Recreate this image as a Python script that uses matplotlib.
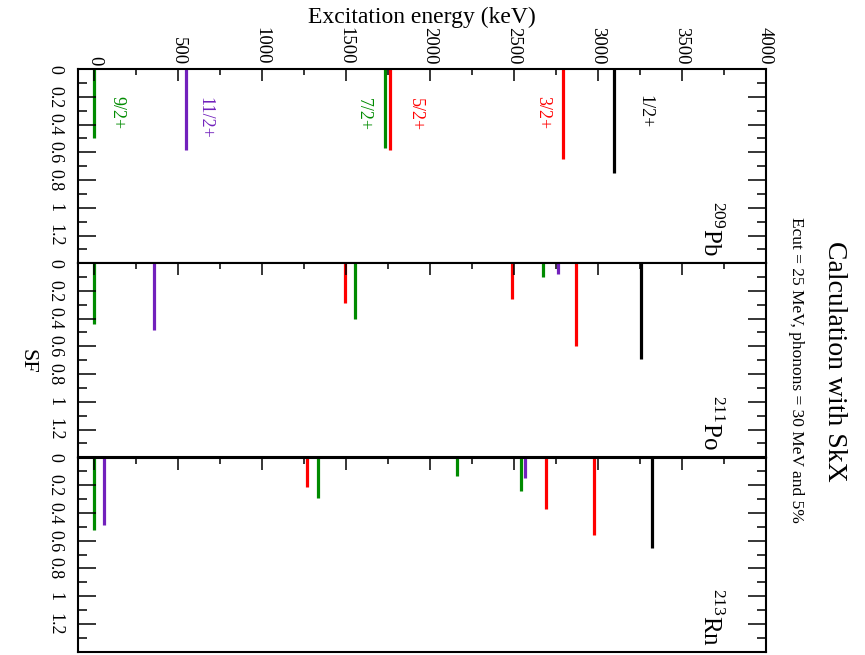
import numpy as np
import matplotlib
matplotlib.use("Agg")
import matplotlib.pyplot as plt

plt.rcParams['font.family'] = ['Liberation Serif', 'DejaVu Serif']
plt.rcParams['mathtext.fontset'] = 'custom'
plt.rcParams['mathtext.rm'] = 'Liberation Serif'

# --- data (energy in keV, spectroscopic factor) ---
nuclei = ['209', '211', '213']
symbols = ['Pb', 'Po', 'Rn']

pb_energy = [0, 545, 1732, 1764, 2794, 3095]
pb_sf = [0.50, 0.58, 0.57, 0.58, 0.65, 0.75]
pb_spin = ['9/2+', '11/2+', '7/2+', '5/2+', '3/2+', '1/2+']

po_energy = [0, 353, 1494, 1552, 2490, 2671, 2761, 2871, 3257]
po_sf = [0.44, 0.48, 0.29, 0.40, 0.26, 0.10, 0.08, 0.60, 0.69]
po_spin = ['9/2+', '11/2+', '5/2+', '7/2+', '5/2+', '7/2+', '11/2+', '3/2+', '1/2+']

rn_energy = [0, 60, 1270, 1333, 2160, 2543, 2565, 2690, 2977, 3325]
rn_sf = [0.52, 0.49, 0.21, 0.29, 0.13, 0.24, 0.15, 0.37, 0.56, 0.65]
rn_spin = ['9/2+', '11/2+', '5/2+', '7/2+', '9/2+', '7/2+', '11/2+', '5/2+', '3/2+', '1/2+']

# spin labels shown in the top panel: (text, energy, SF)
pb_labels = [('9/2+', 135, 0.31), ('11/2+', 660, 0.35), ('7/2+', 1602, 0.325),
             ('5/2+', 1911, 0.33), ('3/2+', 2670, 0.31), ('1/2+', 3283, 0.31)]

energy_ticks = np.arange(0, 4001, 500)
sf_ticks = [0, 0.2, 0.4, 0.6, 0.8, 1.0, 1.2]
sf_ticklabels = ['0', '0.2', '0.4', '0.6', '0.8', '1', '1.2']

spin_colors = {
    '1/2+': 'black',
    '3/2+': '#ff0000',
    '5/2+': '#ff0000',
    '7/2+': '#008b00',
    '9/2+': '#008b00',
    '11/2+': '#7221bc',
}

panels = [(pb_energy, pb_sf, pb_spin), (po_energy, po_sf, po_spin), (rn_energy, rn_sf, rn_spin)]

fig = plt.figure(figsize=(8.65, 6.55), dpi=100)

left, width = 0.0896, 0.7954
height = 0.2965
bottoms = [0.5980, 0.3018, 0.0050]

for i, (energy, sf, spin) in enumerate(panels):
    ax = fig.add_axes([left, bottoms[i], width, height])
    cols = [spin_colors[s] for s in spin]
    ax.vlines(energy, 0, sf, colors=cols, linewidth=2.3, zorder=1)

    ax.set_xlim(-100, 4000)
    ax.set_ylim(1.4, 0)

    ax.xaxis.tick_top()
    ax.set_xticks(energy_ticks)
    ax.set_xticks(np.arange(250, 4000, 500), minor=True)
    ax.tick_params(axis='x', which='both', direction='in', top=True, bottom=False,
                   labeltop=(i == 0), labelbottom=False, width=1.1,
                   labelsize=13.5, labelrotation=270, pad=3)
    ax.tick_params(axis='x', which='major', length=8.6)
    ax.tick_params(axis='x', which='minor', length=4.3)

    ax.set_yticks(sf_ticks, labels=sf_ticklabels)
    ax.set_yticks(np.arange(0.1, 1.35, 0.2), minor=True)
    ax.tick_params(axis='y', which='both', direction='in', left=True, right=True,
                   labelleft=True, labelright=False, width=1.1,
                   labelsize=13, labelrotation=270, pad=10)
    ax.tick_params(axis='y', which='major', length=13)
    ax.tick_params(axis='y', which='minor', length=6.5)
    for lbl in ax.get_yticklabels():
        lbl.set_va('center')

    for sp in ax.spines.values():
        sp.set_linewidth(1.5)

    ax.text(0.92, 0.18, r'$^{%s}$%s' % (nuclei[i], symbols[i]), transform=ax.transAxes,
            rotation=270, ha='center', va='center', fontsize=18)

    if i == 0:
        for txt, e, s in pb_labels:
            ax.text(e, s, txt, rotation=270, ha='center', va='center',
                    fontsize=13, color=spin_colors[txt])

fig.text(0.4873, 0.974, 'Excitation energy (keV)', ha='center', va='center', fontsize=17)
fig.text(27 / 865, 1 - 361 / 655, 'SF', rotation=270, ha='center', va='center', fontsize=16)
fig.text(834 / 865, 1 - 361 / 655, 'Calculation with SkX', rotation=270,
         ha='center', va='center', fontsize=20)
fig.text(796 / 865, 1 - 370 / 655, 'Ecut = 25 MeV, phonons = 30 MeV and 5%', rotation=270,
         ha='center', va='center', fontsize=12.5)

fig.savefig('out.png', dpi=100)
